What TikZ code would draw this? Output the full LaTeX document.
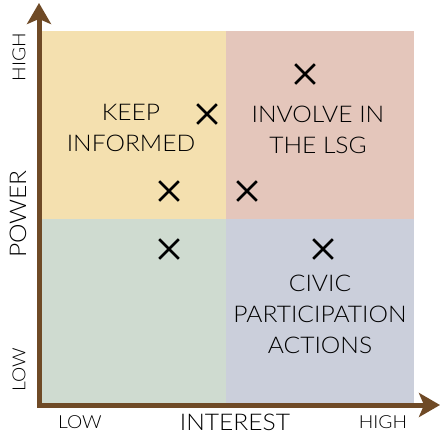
\documentclass[tikz,border=0pt]{standalone}
\usepackage{fontspec}
\setmainfont{Lato Light}[FakeStretch=1.07]
\usetikzlibrary{arrows.meta,shapes.misc}
\definecolor{qtl}{HTML}{F4E0AF}
\definecolor{qtr}{HTML}{E4C6BB}
\definecolor{qbl}{HTML}{CFDBD0}
\definecolor{qbr}{HTML}{CBCFDB}
\definecolor{axisbrown}{HTML}{6F4A26}
\tikzset{
  quad/.style={draw=none, inner sep=0pt, outer sep=0pt},
  mark x/.style={cross out, draw=black, line width=2.6pt, minimum width=17pt, minimum height=17pt, inner sep=0pt},
  qlabel/.style={align=center, font=\fontsize{23}{31}\selectfont, text=black, inner sep=0pt},
  axlabel/.style={font=\fontsize{18}{20}\selectfont, text=black, inner sep=0pt},
  axtitle/.style={font=\fontsize{23}{25}\selectfont, text=black, inner sep=0pt},
  axisline/.style={draw=axisbrown, line width=5pt}
}
\begin{document}
\begin{tikzpicture}[x=1pt,y=-1pt]
\useasboundingbox (0,0) rectangle (440,434);
% quadrants
\node[quad, fill=qtl, minimum width=187pt, minimum height=188pt, anchor=north west] (tl) at (40,31) {};
\node[quad, fill=qtr, minimum width=188pt, minimum height=188pt, anchor=north west] (tr) at (226,31) {};
\node[quad, fill=qbl, minimum width=187pt, minimum height=187pt, anchor=north west] (bl) at (40,219) {};
\node[quad, fill=qbr, minimum width=188pt, minimum height=187pt, anchor=north west] (br) at (226,219) {};
% axes
\coordinate (vtip) at (39,3);
\coordinate (corner) at (39,405);
\coordinate (htip) at (440,405);
\draw[axisline, {Stealth[length=21pt,width=24pt,inset=5pt]}-{Stealth[length=21pt,width=24pt,inset=5pt]}] (vtip) -- (corner) -- (htip);
% quadrant labels
\node[qlabel] (keep) at (131,128) {KEEP\\INFORMED};
\node[qlabel] (involve) at (318,130) {INVOLVE IN\\THE LSG};
\node[qlabel] (civic) at (320,314) {CIVIC\\PARTICIPATION\\ACTIONS};
% marks
\node[mark x] (m1) at (207,114) {};
\node[mark x] (m2) at (169,191) {};
\node[mark x] (m3) at (305,74) {};
\node[mark x] (m4) at (247,191) {};
\node[mark x] (m5) at (169,249) {};
\node[mark x] (m6) at (323,249) {};
% axis labels
\node[axlabel, rotate=90] (yhigh) at (19,57) {HIGH};
\node[axtitle, rotate=90] (ypow) at (18,214) {POWER};
\node[axlabel, rotate=90] (ylow) at (19,370) {LOW};
\node[axlabel] (xlow) at (80,422) {LOW};
\node[axtitle] (xint) at (235,422.5) {INTEREST};
\node[axlabel] (xhigh) at (383,422) {HIGH};
\end{tikzpicture}
\end{document}
